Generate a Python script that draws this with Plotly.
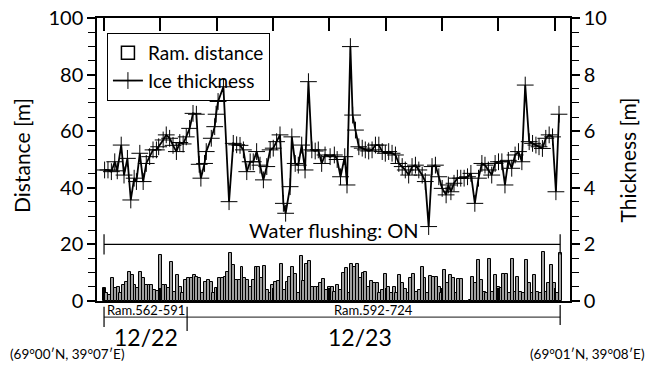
import plotly.graph_objects as go

# ---------------- data ----------------
ram_no = list(range(562, 725))  # ramming numbers 562..724
ram_distance = [
    4.5, 2.7, 2.0, 8.0, 4.5, 5.0, 3.0, 5.7, 6.8, 10.4,
    9.2, 5.7, 4.5, 10.4, 8.0, 5.7, 5.7, 5.7, 4.0, 3.5,
    16.3, 5.7, 5.7, 4.5, 13.9, 3.3, 9.2, 5.0, 3.0, 7.4,
    8.0, 8.0, 9.2, 8.6, 8.0, 2.7, 6.8, 7.4, 6.8, 2.7,
    4.5, 8.0, 8.0, 8.6, 10.4, 16.8, 12.7, 7.4, 7.4, 12.1,
    8.0, 7.4, 5.0, 7.4, 11.9, 12.1, 8.0, 12.4, 3.9, 3.0,
    5.7, 6.8, 7.2, 13.0, 4.0, 6.8, 8.6, 12.1, 9.5, 3.0,
    15.9, 7.2, 13.0, 14.3, 5.0, 4.8, 5.0, 6.2, 7.7, 3.9,
    4.8, 5.0, 3.3, 5.7, 3.9, 9.8, 11.5, 3.0, 13.0, 12.1,
    13.0, 8.0, 10.0, 10.4, 5.0, 7.2, 6.2, 6.2, 3.0, 3.9,
    9.5, 4.8, 3.0, 5.0, 3.0, 9.2, 6.2, 4.1, 2.7, 8.0,
    9.5, 3.3, 4.0, 11.9, 8.0, 2.7, 8.8, 8.6, 8.6, 5.0,
    3.0, 11.0, 6.2, 9.2, 8.0, 3.0, 7.7, 7.7, 0.0, 0.0,
    0.5, 8.6, 6.2, 14.5, 7.4, 3.3, 3.0, 14.7, 3.3, 9.2,
    5.0, 4.5, 9.5, 9.5, 3.0, 14.7, 3.3, 8.6, 3.3, 3.0,
    14.5, 6.2, 3.0, 9.2, 3.3, 3.0, 17.4, 3.3, 6.2, 12.7,
    6.2, 3.0, 16.8,
]

thick_ram = [
    562.2, 563.4, 564.6, 565.8, 566.7, 568.1, 569.1, 570.3, 571.5, 572.7,
    573.5, 574.7, 575.9, 577.0, 578.2, 579.4, 580.6, 581.4, 583.0, 584.1,
    585.3, 586.5, 587.7, 588.9, 590.1, 591.2, 592.4, 593.6, 594.8, 595.8,
    596.4, 597.7, 598.3, 600.1, 601.3, 601.8, 602.5, 604.4, 606.4, 607.9,
    609.1, 610.3, 611.5, 612.7, 613.9, 615.0, 616.2, 617.4, 618.6, 619.8,
    621.0, 622.1, 623.3, 624.5, 625.7, 626.5, 628.1, 628.7, 629.9, 631.0,
    632.2, 633.4, 634.6, 635.8, 637.0, 638.1, 639.3, 640.5, 642.3, 643.8,
    644.8, 646.0, 647.5, 648.3, 649.5, 650.3, 651.3, 652.5, 653.7, 654.8,
    656.0, 657.2, 658.4, 659.6, 660.8, 661.9, 663.1, 664.3, 665.5, 666.7,
    667.9, 669.0, 670.2, 671.4, 672.6, 673.8, 675.0, 676.1, 677.3, 678.5,
    679.7, 680.9, 682.1, 683.5, 684.3, 685.2, 686.3, 687.5, 688.7, 689.9,
    691.1, 692.3, 693.7, 695.0, 696.2, 697.3, 698.5, 699.7, 700.9, 702.1,
    703.3, 704.4, 705.6, 706.8, 708.0, 709.2, 710.4, 711.6, 713.0, 714.2,
    715.4, 716.5, 717.7, 718.9, 720.1, 721.3, 722.5, 723.6,
]
thick_m = [
    4.63, 4.63, 4.57, 4.92, 4.60, 5.51, 4.45, 5.04, 3.57, 4.34,
    4.22, 5.22, 4.22, 4.86, 5.10, 5.34, 5.34, 5.45, 5.69, 5.87,
    5.75, 5.50, 5.28, 5.60, 5.55, 5.80, 6.10, 6.63, 6.60, 4.83,
    4.34, 4.86, 5.28, 5.75, 6.16, 6.60, 7.05, 7.57, 3.51, 5.57,
    5.52, 5.50, 5.34, 4.57, 4.92, 4.92, 5.28, 4.80, 4.28, 4.75,
    5.34, 5.40, 5.63, 5.87, 3.45, 3.10, 4.04, 5.80, 4.86, 4.80,
    5.51, 4.63, 7.75, 5.34, 5.30, 5.34, 4.86, 5.16, 5.10, 5.16,
    5.00, 4.39, 5.10, 4.10, 8.99, 6.57, 6.04, 5.45, 5.40, 5.34,
    5.30, 5.34, 5.51, 5.51, 5.28, 5.22, 5.28, 5.22, 5.16, 4.86,
    4.75, 4.63, 4.45, 4.75, 4.80, 4.63, 4.45, 4.22, 2.63, 4.75,
    4.80, 4.39, 3.98, 3.75, 4.10, 3.86, 4.16, 4.34, 4.34, 4.34,
    4.39, 4.51, 3.45, 4.34, 4.86, 4.80, 4.63, 4.45, 4.86, 4.92,
    4.92, 4.10, 4.97, 4.69, 5.16, 5.28, 4.92, 7.63, 5.63, 5.57,
    5.51, 5.45, 5.39, 5.75, 5.87, 5.80, 3.86, 6.60,
]

flush_from, flush_to, flush_level = 562, 724, 20
segments = [("Ram.562-591", 562, 591.5), ("Ram.592-724", 591.5, 724)]
days = [("12/22", 577.0), ("12/23", 653.0)]
positions = ["(69°00′N, 39°07′E)", "(69°01′N, 39°08′E)"]

FONT = "Lato"

fig = go.Figure()

fig.add_trace(go.Bar(
    x=ram_no, y=ram_distance, width=1.05,
    marker=dict(color="#a0a0a0", line=dict(color="black", width=1)),
    showlegend=False, yaxis="y",
))
# legend entry for ramming distance (open square)
fig.add_trace(go.Scatter(
    x=[None], y=[None], mode="markers", name="Ram. distance",
    marker=dict(symbol="square-open", size=13, color="black", line=dict(width=1.5)),
))
fig.add_trace(go.Scatter(
    x=thick_ram, y=thick_m, mode="lines+markers", name="Ice thickness",
    line=dict(color="black", width=1.8),
    marker=dict(symbol="cross-thin", size=12, color="black", line=dict(color="black", width=1)),
    yaxis="y2",
))

shapes = []
# water flushing bar
shapes.append(dict(type="line", xref="x", yref="y", x0=flush_from, x1=flush_to,
                   y0=flush_level, y1=flush_level, line=dict(color="black", width=1.2)))
for xv in (flush_from, flush_to):
    shapes.append(dict(type="line", xref="x", yref="y", x0=xv, x1=xv,
                       y0=flush_level - 3.6, y1=flush_level + 3.6, line=dict(color="black", width=1.2)))

# bracket below axis
shapes.append(dict(type="line", xref="x", yref="paper", x0=562, x1=724, y0=-0.057, y1=-0.057,
                   line=dict(color="#444444", width=1.2)))
for xv, y0, y1 in ((562, -0.02, -0.092), (591.5, -0.02, -0.106), (724, -0.014, -0.085)):
    shapes.append(dict(type="line", xref="x", yref="paper", x0=xv, x1=xv, y0=y0, y1=y1,
                       line=dict(color="black", width=1.2)))

def note(text, x, y, size, xref="paper", yref="paper", angle=0, yanchor="middle"):
    return dict(text=text, x=x, y=y, xref=xref, yref=yref, textangle=angle,
                xanchor="center", yanchor=yanchor, showarrow=False,
                font=dict(size=size, family=FONT, color="black"))

annotations = [
    note("Water flushing: ON", 643.5, flush_level + 0.3, 20, xref="x", yref="y", yanchor="bottom"),
    note("Distance [m]", -0.1586, 0.516, 21, angle=-90),
    note("Thickness [m]", 1.1226, 0.50, 21, angle=-90),
]
for label, a, b in segments:
    annotations.append(note(label, (a + b) / 2, -0.033, 13, xref="x"))
for day, xv in days:
    annotations.append(note(day, xv, -0.127, 23, xref="x"))
annotations.append(note(positions[0], -0.063, -0.187, 13.5))
annotations.append(note(positions[1], 1.037, -0.187, 13.5))

fig.update_layout(
    width=647, height=365,
    margin=dict(l=97, r=77, t=18, b=64, autoexpand=False),
    paper_bgcolor="white", plot_bgcolor="white",
    font=dict(family=FONT, size=20, color="black"),
    bargap=0,
    xaxis=dict(range=[559.5, 727.5], showgrid=False, zeroline=False, automargin=False,
               showline=True, linecolor="black", linewidth=1.5, mirror="ticks",
               ticks="inside", tickmode="linear", tick0=562, dtick=20, ticklen=13,
               tickcolor="black", tickwidth=1.5, showticklabels=False),
    yaxis=dict(range=[0, 100], showgrid=False, zeroline=False, automargin=False,
               showline=True, linecolor="black", linewidth=1.5,
               ticks="outside", dtick=20, ticklen=8, tickwidth=1.5, tickcolor="black",
               minor=dict(dtick=5, ticks="outside", ticklen=7, tickcolor="black", tickwidth=1.2),
               tickfont=dict(size=20, family=FONT)),
    yaxis2=dict(range=[0, 10], overlaying="y", side="right", showgrid=False, zeroline=False,
                automargin=False,
                showline=True, linecolor="black", linewidth=1.5,
                ticks="outside", dtick=2, ticklen=8, tickwidth=1.5, tickcolor="black",
                minor=dict(dtick=0.5, ticks="outside", ticklen=7, tickcolor="black", tickwidth=1.2),
                tickfont=dict(size=20, family=FONT)),
    legend=dict(x=0.021, y=0.947, xanchor="left", yanchor="top",
                bordercolor="black", borderwidth=1, bgcolor="rgba(255,255,255,0)",
                font=dict(size=19, family=FONT), tracegroupgap=0,
                itemwidth=30),
    shapes=shapes, annotations=annotations,
)

fig.write_html("out.html", config={"displayModeBar": False},
               post_script="document.body.style.margin='0';")
